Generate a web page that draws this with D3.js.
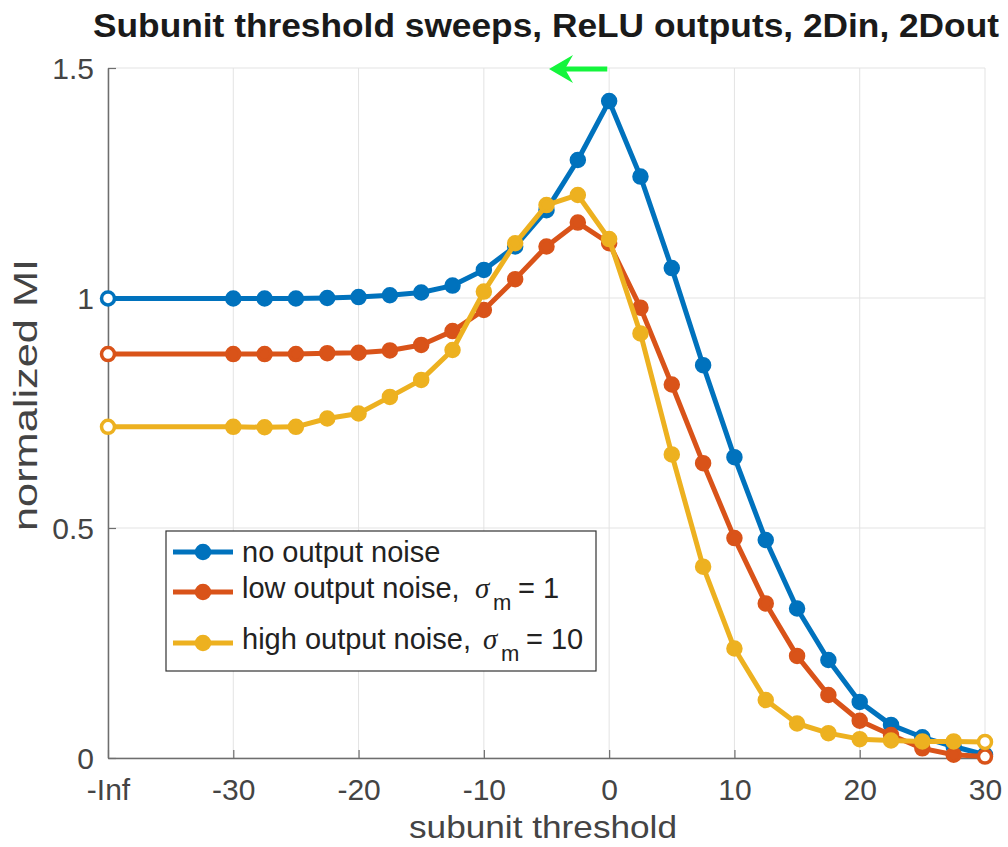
<!DOCTYPE html>
<html>
<head>
<meta charset="utf-8">
<script src="https://cdn.jsdelivr.net/npm/d3@7"></script>
<style>
  body { margin: 0; background: #fff; }
  svg { font-family: "Liberation Sans", Arial, Helvetica, sans-serif; }
</style>
</head>
<body>
<div id="chart"></div>
<script>
// subunit thresholds (first one is -Inf, drawn at the left edge)
const thresholds = [-Infinity, -30, -27.5, -25, -22.5, -20, -17.5, -15, -12.5, -10, -7.5, -5, -2.5,
    0, 2.5, 5, 7.5, 10, 12.5, 15, 17.5, 20, 22.5, 25, 27.5, 30];

const noNoise = [0.999, 0.999, 0.999, 0.999, 1.000, 1.002, 1.006, 1.012, 1.027, 1.061, 1.112, 1.191, 1.300,
    1.428, 1.264, 1.065, 0.854, 0.654, 0.474, 0.325, 0.213, 0.122, 0.072, 0.045, 0.025, 0.007];
const lowNoise = [0.878, 0.878, 0.878, 0.878, 0.880, 0.881, 0.886, 0.898, 0.928, 0.974, 1.041, 1.112, 1.164,
    1.119, 0.979, 0.812, 0.641, 0.478, 0.336, 0.222, 0.137, 0.081, 0.050, 0.021, 0.007, 0.003];
const highNoise = [0.720, 0.720, 0.719, 0.720, 0.738, 0.749, 0.785, 0.822, 0.887, 1.014, 1.119, 1.202, 1.224,
    1.128, 0.923, 0.660, 0.416, 0.238, 0.126, 0.075, 0.054, 0.041, 0.038, 0.036, 0.036, 0.035];

const xTicks = [-40, -30, -20, -10, 0, 10, 20, 30];
const xTickLabels = ["-Inf", "-30", "-20", "-10", "0", "10", "20", "30"];
const yTicks = [0, 0.5, 1, 1.5];
const yTickLabels = ["0", "0.5", "1", "1.5"];

const seriesNames = ["no output noise", "low output noise,", "high output noise,"];
const sigmaValues = [null, "1", "10"];
const colors = ["#0072BD", "#D95319", "#EDB120"];

// arrow annotation: from threshold 0 pointing left at the top of the axes
const arrowFrom = -0.15, arrowTo = -4.8, arrowY = 1.498;

const W = 1008, H = 847;
const margin = { top: 68, right: 23, bottom: 89, left: 108 };
const width = W - margin.left - margin.right;
const height = H - margin.top - margin.bottom;

const svg = d3.select("#chart").append("svg")
    .attr("width", W)
    .attr("height", H);

const g = svg.append("g")
    .attr("transform", `translate(${margin.left}, ${margin.top})`);

const x = d3.scaleLinear().domain([-40, 30]).range([0, width]);
const y = d3.scaleLinear().domain([0, 1.5]).range([height, 0]);
const xVal = t => (t === -Infinity ? -40 : t);

// grid
g.selectAll("line.xgrid")
    .data(xTicks)
    .enter().append("line")
    .attr("class", "xgrid")
    .attr("x1", d => x(d)).attr("x2", d => x(d))
    .attr("y1", 0).attr("y2", height)
    .style("stroke", "#e3e3e3").style("stroke-width", 1);

g.selectAll("line.ygrid")
    .data(yTicks)
    .enter().append("line")
    .attr("class", "ygrid")
    .attr("x1", 0).attr("x2", width)
    .attr("y1", d => y(d)).attr("y2", d => y(d))
    .style("stroke", "#e3e3e3").style("stroke-width", 1);

// axes (MATLAB style: inward ticks, no box)
const xAxis = g.append("g")
    .attr("transform", `translate(0, ${height})`)
    .call(d3.axisBottom(x).tickValues(xTicks).tickSize(-8).tickSizeOuter(0)
        .tickFormat((d, i) => xTickLabels[i]).tickPadding(14));

const yAxis = g.append("g")
    .call(d3.axisLeft(y).tickValues(yTicks).tickSize(-8).tickSizeOuter(0)
        .tickFormat((d, i) => yTickLabels[i]).tickPadding(14));

[xAxis, yAxis].forEach(a => {
    a.select(".domain").style("stroke", "#6e6e6e").style("stroke-width", 1.5);
    a.selectAll(".tick line").style("stroke", "#6e6e6e").style("stroke-width", 1.2);
    a.selectAll(".tick text")
        .style("font-family", "Liberation Sans, Arial, sans-serif")
        .style("font-size", "30px")
        .style("fill", "#444");
});
xAxis.selectAll(".tick text").attr("dy", "0.93em");
yAxis.selectAll(".tick text").attr("dy", "0.36em");

// series
const allSeries = [noNoise, lowNoise, highNoise];
const line = d3.line()
    .x(d => x(xVal(d.t)))
    .y(d => y(d.v));

allSeries.forEach((vals, si) => {
    const pts = thresholds.map((t, i) => ({ t: t, v: vals[i], edge: i === 0 || i === thresholds.length - 1 }));
    g.append("path")
        .datum(pts)
        .attr("d", line)
        .style("fill", "none")
        .style("stroke", colors[si])
        .style("stroke-width", 5)
        .style("stroke-linejoin", "round");
    g.selectAll("circle.s" + si)
        .data(pts)
        .enter().append("circle")
        .attr("class", "s" + si)
        .attr("cx", d => x(xVal(d.t)))
        .attr("cy", d => y(d.v))
        .attr("r", 6.5)
        .style("fill", d => d.edge ? "#fff" : colors[si])
        .style("stroke", colors[si])
        .style("stroke-width", 3.5);
});

// green arrow annotation
const ax0 = x(arrowFrom), ax1 = x(arrowTo), ay = y(arrowY);
g.append("line")
    .attr("x1", ax0).attr("x2", ax1 + 16)
    .attr("y1", ay).attr("y2", ay)
    .style("stroke", "#14f53c").style("stroke-width", 5);
g.append("path")
    .attr("d", `M${ax1},${ay} L${ax1 + 24},${ay - 14} L${ax1 + 16},${ay} L${ax1 + 24},${ay + 14} Z`)
    .style("fill", "#14f53c");

// legend
const legend = svg.append("g").attr("transform", "translate(166, 531)");
legend.append("rect")
    .attr("width", 430).attr("height", 140)
    .style("fill", "#fff").style("stroke", "#333").style("stroke-width", 1.2);

const rowY = [21, 61, 112];
const textY = [31, 67, 118];
seriesNames.forEach((name, i) => {
    legend.append("line")
        .attr("x1", 7).attr("x2", 67)
        .attr("y1", rowY[i]).attr("y2", rowY[i])
        .style("stroke", colors[i]).style("stroke-width", 5);
    legend.append("circle")
        .attr("cx", 37).attr("cy", rowY[i]).attr("r", 6.5)
        .style("fill", colors[i]).style("stroke", colors[i]).style("stroke-width", 3.5);
    const t = legend.append("text")
        .attr("x", 76).attr("y", textY[i])
        .style("font-size", "29px")
        .style("fill", "#222")
        .text(name);
    if (sigmaValues[i]) {
        const sx = i === 1 ? 309 : 317;
        t.append("tspan")
            .attr("x", sx)
            .style("font-family", "Liberation Serif, Times New Roman, serif")
            .style("font-style", "italic")
            .text("σ");
        t.append("tspan")
            .attr("x", sx + 18).attr("dy", 12)
            .style("font-size", "22px")
            .text("m");
        t.append("tspan")
            .attr("x", sx + 43).attr("dy", -12)
            .text("= " + sigmaValues[i]);
    }
});

// labels
svg.append("text")
    .attr("x", 546).attr("y", 37)
    .attr("text-anchor", "middle")
    .style("font-size", "34px")
    .style("font-weight", "bold")
    .style("fill", "#1a1a1a")
    .attr("textLength", 906)
    .attr("lengthAdjust", "spacingAndGlyphs")
    .text("Subunit threshold sweeps, ReLU outputs, 2Din, 2Dout");

svg.append("text")
    .attr("x", 543).attr("y", 838)
    .attr("text-anchor", "middle")
    .style("font-size", "32px")
    .style("fill", "#444")
    .attr("textLength", 268)
    .attr("lengthAdjust", "spacingAndGlyphs")
    .text("subunit threshold");

svg.append("text")
    .attr("transform", "translate(37, 395) rotate(-90)")
    .attr("text-anchor", "middle")
    .style("font-size", "33px")
    .style("fill", "#444")
    .attr("textLength", 272)
    .attr("lengthAdjust", "spacingAndGlyphs")
    .text("normalized MI");
</script>
</body>
</html>
